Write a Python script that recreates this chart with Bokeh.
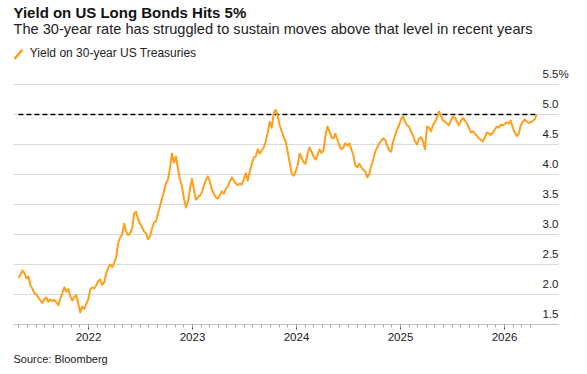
import numpy as np
import pandas as pd
from bokeh.plotting import figure
from bokeh.models import Range1d, FixedTicker, Label, Arrow, Title
from bokeh.embed import file_html
from bokeh.resources import INLINE

# ---------------- data (weekly closes) ----------------
START_DATE = "2021-04-30"   # first weekly observation; one value every 7 days
yield_2021 = [2.28, 2.33, 2.40, 2.36, 2.27, 2.30, 2.15, 2.10, 2.03, 2.00,
              1.95, 1.90, 1.86, 1.92, 1.95, 1.88, 1.92, 1.89, 1.91, 1.87,
              1.82, 1.93, 2.02, 2.12, 2.05, 2.09, 1.97, 1.90, 1.95, 1.99,
              1.85, 1.70, 1.80, 1.76, 1.84, 1.92]
yield_2022 = [2.08, 2.12, 2.10, 2.15, 2.22, 2.25, 2.16, 2.20, 2.35, 2.44,
              2.50, 2.46, 2.52, 2.62, 2.85, 2.95, 3.00, 3.18, 3.05, 2.99,
              3.02, 3.10, 3.35, 3.38, 3.25, 3.18, 3.12, 3.05, 3.02, 2.92,
              2.97, 3.10, 3.20, 3.22, 3.35, 3.47, 3.60, 3.72, 3.85, 3.92,
              4.10, 4.35, 4.20, 4.30, 4.10, 3.92, 3.80, 3.60, 3.45, 3.55,
              3.75, 3.93]
yield_2023 = [3.75, 3.58, 3.62, 3.65, 3.70, 3.82, 3.90, 3.97, 3.88, 3.75,
              3.68, 3.62, 3.60, 3.65, 3.72, 3.68, 3.76, 3.80, 3.88, 3.95,
              3.90, 3.85, 3.82, 3.85, 3.83, 3.92, 4.02, 3.90, 4.05, 4.18,
              4.28, 4.30, 4.42, 4.35, 4.40, 4.45, 4.55, 4.70, 4.88, 4.78,
              5.02, 5.08, 4.98, 4.82, 4.72, 4.62, 4.55, 4.38, 4.20, 4.02,
              3.98, 4.05]
yield_2024 = [4.15, 4.35, 4.28, 4.20, 4.18, 4.35, 4.45, 4.38, 4.30, 4.25,
              4.32, 4.42, 4.36, 4.40, 4.65, 4.80, 4.72, 4.62, 4.60, 4.68,
              4.58, 4.48, 4.42, 4.45, 4.52, 4.48, 4.52, 4.42, 4.32, 4.15,
              4.12, 4.18, 4.12, 4.08, 4.05, 3.95, 4.00, 4.15, 4.25, 4.38,
              4.45, 4.52, 4.56, 4.60, 4.58, 4.48, 4.40, 4.38, 4.55, 4.65,
              4.75, 4.82]
yield_2025 = [4.92, 4.97, 4.88, 4.82, 4.80, 4.72, 4.65, 4.55, 4.50, 4.60,
              4.62, 4.55, 4.42, 4.80, 4.78, 4.72, 4.82, 4.88, 4.95, 5.05,
              4.98, 4.90, 4.88, 4.85, 4.82, 4.90, 4.97, 4.95, 4.88, 4.82,
              4.90, 4.94, 4.90, 4.85, 4.78, 4.70, 4.72, 4.68, 4.65, 4.60,
              4.58, 4.55, 4.62, 4.70, 4.68, 4.66, 4.70, 4.75, 4.80, 4.78,
              4.83, 4.82]
yield_2026 = [4.84, 4.87, 4.85, 4.90, 4.78, 4.70, 4.64, 4.68, 4.82, 4.88,
              4.92, 4.88, 4.86, 4.87, 4.89, 4.92, 5.00]

year_ticks = [2022, 2023, 2024, 2025, 2026]
y_ticks = [1.5, 2.0, 2.5, 3.0, 3.5, 4.0, 4.5, 5.0, 5.5]
y_tick_labels = ["1.5", "2.0", "2.5", "3.0", "3.5", "4.0", "4.5", "5.0", "5.5"]
THRESHOLD = 5.0

TITLE = "Yield on US Long Bonds Hits 5%"
SUBTITLE = "The 30-year rate has struggled to sustain moves above that level in recent years"
LEGEND_LABEL = "Yield on 30-year US Treasuries"
SOURCE = "Source: Bloomberg"

# ---------------- build ----------------
values = yield_2021 + yield_2022 + yield_2023 + yield_2024 + yield_2025 + yield_2026
dates = pd.date_range(START_DATE, periods=len(values), freq="7D")


def dec_year(d):
    days = np.where(d.is_leap_year, 366, 365)
    return np.asarray(d.year + (d.dayofyear - 1) / days, dtype=float)


xs = dec_year(dates)
months = pd.date_range("2021-05-01", "2026-04-01", freq="MS")
minor = [float(v) for v in dec_year(months)]

FONT = "Liberation Sans"
ORANGE = "#ff9f1c"
TXT = "#222222"

# plotting area (where gridlines / axis run) and full canvas range
gx0, gx1 = 2021.2788, 2026.5192
cx0, cx1 = 2021.1538, 2026.7981
LABEL_LIFT = 0.167   # y-tick labels float above their gridline

p = figure(width=587, height=374, output_backend="svg", toolbar_location=None,
           title_location=None,
           x_range=Range1d(cx0, cx1), y_range=Range1d(1.5, 6.9),
           y_axis_location=None, min_border_left=0, min_border_right=0,
           min_border_top=0, min_border_bottom=50)
p.outline_line_color = None
p.background_fill_color = "white"
p.border_fill_color = "white"
p.xgrid.visible = False
p.ygrid.visible = False

# horizontal gridlines over the plotting area
p.segment(x0=[gx0] * len(y_ticks), x1=[gx1] * len(y_ticks), y0=y_ticks, y1=y_ticks,
          line_color="#dadada", line_width=1)

ax = p.xaxis[0]
ax.bounds = (gx0, gx1)
ax.ticker = FixedTicker(ticks=year_ticks, minor_ticks=minor)
ax.axis_line_color = "#c4c4c4"
ax.major_tick_line_color = "#444444"
ax.major_tick_in = 0
ax.major_tick_out = 5
ax.minor_tick_line_color = "#aaaaaa"
ax.minor_tick_in = 0
ax.minor_tick_out = 3
ax.major_label_text_font = FONT
ax.major_label_text_font_size = "11.5px"
ax.major_label_text_color = TXT
ax.major_label_standoff = 3

# threshold line across the data span
p.segment(x0=[xs[0]], x1=[xs[-1]], y0=[THRESHOLD], y1=[THRESHOLD],
          line_color="black", line_width=1.3, line_dash="5 3")

p.line(xs, values, line_color=ORANGE, line_width=2, line_join="round")

# y tick labels inside the plot, above gridlines
for t, lab in zip(y_ticks, y_tick_labels):
    p.add_layout(Label(x=gx1, y=t + LABEL_LIFT, text=lab, text_align="right",
                       text_baseline="alphabetic", text_font=FONT,
                       text_font_size="11.5px", text_color=TXT))
p.add_layout(Label(x=gx1, y=y_ticks[-1] + LABEL_LIFT, text="%", text_align="left",
                   text_baseline="alphabetic", text_font=FONT,
                   text_font_size="11.5px", text_color=TXT))

# titles, legend
p.add_layout(Label(x=gx0, y=6.705, text=TITLE, text_font=FONT, text_font_size="15px",
                   text_font_style="bold", text_color="#111111", text_baseline="alphabetic"))
p.add_layout(Label(x=gx0, y=6.428, text=SUBTITLE, text_font=FONT, text_font_size="14.6px",
                   text_color=TXT, text_baseline="alphabetic"))
p.add_layout(Arrow(x_start=2021.2885, y_start=5.928, x_end=2021.3625, y_end=6.078,
                   end=None, line_color=ORANGE, line_width=2.5))
p.add_layout(Label(x=2021.4356, y=6.028, text=LEGEND_LABEL, text_font=FONT, text_font_size="12px",
                   text_color=TXT, text_baseline="alphabetic"))

# source below the axis
p.add_layout(Title(text=SOURCE, align="left", offset=13, standoff=14, text_font=FONT,
                   text_font_size="11px", text_font_style="normal", text_color=TXT), "below")

open("out.html", "w").write(file_html(p, INLINE))
